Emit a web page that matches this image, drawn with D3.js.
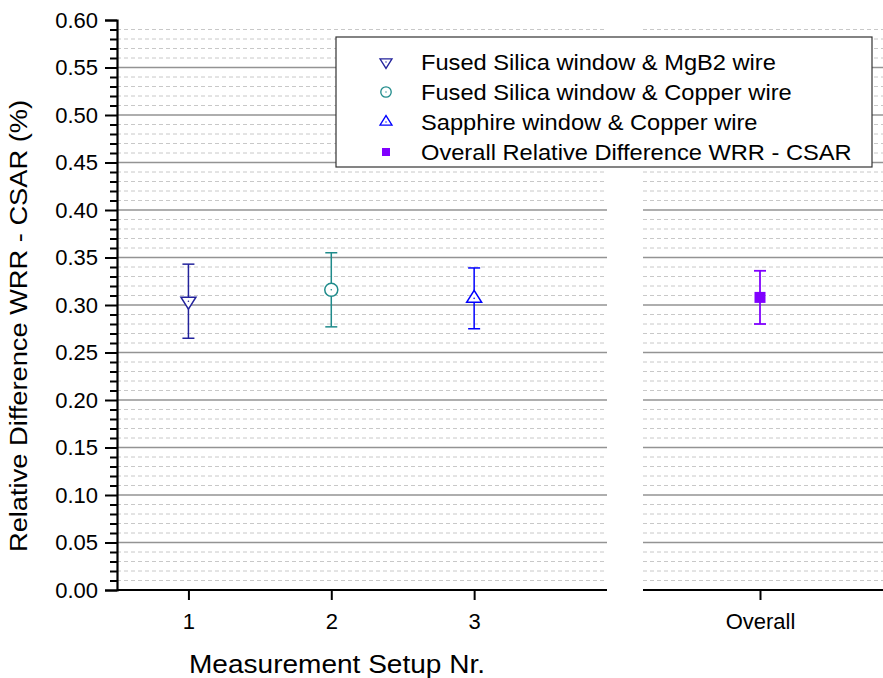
<!DOCTYPE html>
<html>
<head>
<meta charset="utf-8">
<script src="https://cdn.jsdelivr.net/npm/d3@7"></script>
<style>
  body { margin: 0; background: #fff; }
  svg { display: block; }
  text { font-family: "Liberation Sans", Arial, Helvetica, sans-serif; fill: #000; }
</style>
</head>
<body>
<svg id="chart" width="883" height="678"></svg>
<script>
// ---- data ----
const setups = [1, 2, 3];
const setupNames = [
  "Fused Silica window & MgB2 wire",
  "Fused Silica window & Copper wire",
  "Sapphire window & Copper wire"
];
const setupValues = [0.304, 0.316, 0.307];
const setupErrors = [0.039, 0.039, 0.032];
const setupColors = ["#23239c", "#1f8b8b", "#0000ff"];
const setupShapes = ["triangleDown", "circle", "triangleUp"];

const overallCategory = ["Overall"];
const overallName = "Overall Relative Difference WRR - CSAR";
const overallValues = [0.308];
const overallErrors = [0.028];
const overallColor = "#8000ff";

const yMajorTicks = [0, 0.05, 0.10, 0.15, 0.20, 0.25, 0.30, 0.35, 0.40, 0.45, 0.50, 0.55, 0.60];
const yMinorTicks = d3.range(1, 60).filter(i => i % 5 !== 0).map(i => i / 100);
const xTickLabels = ["1", "2", "3"];

const yTitle = "Relative Difference WRR - CSAR (%)";
const xTitle = "Measurement Setup Nr.";

// ---- layout ----
const svg = d3.select("#chart");
const y = d3.scaleLinear().domain([0, 0.6]).range([590, 20]);
const xLeft = d3.scaleLinear().domain([0.5, 3.93]).range([117, 607]);
const xRight = d3.scalePoint().domain(overallCategory).range([643, 877]).padding(0.5);
const panels = [[117, 607], [643, 883]];
const tickFont = 22;

// ---- grid ----
const grid = svg.append("g");
panels.forEach(([x0, x1]) => {
  grid.selectAll(null).data(yMinorTicks).enter().append("line")
    .attr("x1", x0).attr("x2", x1)
    .attr("y1", d => y(d)).attr("y2", d => y(d))
    .attr("stroke", "#c8c8c8").attr("stroke-width", 1)
    .attr("stroke-dasharray", "4,3");
  grid.selectAll(null).data(yMajorTicks.filter(d => d > 0 && d < 0.6)).enter().append("line")
    .attr("x1", x0).attr("x2", x1)
    .attr("y1", d => y(d)).attr("y2", d => y(d))
    .attr("stroke", "#939393").attr("stroke-width", 1.4);
});

// ---- axes ----
const yAxis = svg.append("g").attr("transform", "translate(117,0)");
yAxis.call(d3.axisLeft(y).tickValues(yMinorTicks).tickSize(7).tickFormat(""));
yAxis.call(g => g.selectAll(".domain").remove());
const yAxisMajor = svg.append("g").attr("transform", "translate(117,0)")
  .call(d3.axisLeft(y).tickValues(yMajorTicks).tickSize(12).tickPadding(7).tickFormat(d3.format(".2f")));
yAxisMajor.selectAll("text").attr("font-size", tickFont).attr("font-family", "Liberation Sans, Arial, sans-serif");
[yAxis, yAxisMajor].forEach(g => {
  g.selectAll(".tick line").attr("stroke", "#000").attr("stroke-width", 2);
  g.select(".domain").attr("stroke", "#000").attr("stroke-width", 2.2);
});

const xAxisLeft = svg.append("g").attr("transform", "translate(0,590)")
  .call(d3.axisBottom(xLeft).tickValues(setups).tickSize(10).tickPadding(13)
    .tickFormat((d, i) => xTickLabels[i]));
xAxisLeft.select(".domain").attr("d", `M${panels[0][0]},0H${panels[0][1]}`);
const xAxisRight = svg.append("g").attr("transform", "translate(0,590)")
  .call(d3.axisBottom(xRight).tickSize(10).tickPadding(13));
xAxisRight.select(".domain").attr("d", `M${panels[1][0]},0H${panels[1][1]}`);
[xAxisLeft, xAxisRight].forEach(g => {
  g.select(".domain").attr("stroke", "#000").attr("stroke-width", 2.2);
  g.selectAll(".tick line").attr("stroke", "#000").attr("stroke-width", 2);
  g.selectAll("text").attr("font-size", tickFont).attr("font-family", "Liberation Sans, Arial, sans-serif");
});

// ---- axis titles ----
svg.append("text")
  .attr("transform", "translate(27,326) rotate(-90)")
  .attr("text-anchor", "middle")
  .attr("font-size", 23)
  .attr("textLength", 452)
  .attr("lengthAdjust", "spacingAndGlyphs")
  .text(yTitle);
svg.append("text")
  .attr("x", 337).attr("y", 673)
  .attr("text-anchor", "middle")
  .attr("font-size", 26)
  .attr("textLength", 296)
  .attr("lengthAdjust", "spacingAndGlyphs")
  .text(xTitle);

// ---- marker shapes ----
function markerPath(shape, s) {
  const p = d3.path();
  if (shape === "triangleDown") {
    const h = s * 0.8;
    p.moveTo(-s / 2, -h / 3); p.lineTo(s / 2, -h / 3); p.lineTo(0, 2 * h / 3); p.closePath();
  } else if (shape === "triangleUp") {
    const h = s * 0.8;
    p.moveTo(-s / 2, h / 3); p.lineTo(s / 2, h / 3); p.lineTo(0, -2 * h / 3); p.closePath();
  } else if (shape === "circle") {
    p.arc(0, 0, s / 2.3, 0, 2 * Math.PI);
  } else if (shape === "square") {
    p.rect(-s / 2, -s / 2, s, s);
  }
  return p.toString();
}

function drawErrorBar(g, cx, v, e, color, width) {
  g.append("line").attr("x1", cx).attr("x2", cx).attr("y1", y(v + e)).attr("y2", y(v - e))
    .attr("stroke", color).attr("stroke-width", width);
  [v + e, v - e].forEach(t => {
    g.append("line").attr("x1", cx - 6).attr("x2", cx + 6).attr("y1", y(t)).attr("y2", y(t))
      .attr("stroke", color).attr("stroke-width", width);
  });
}

// ---- setup points ----
const marks = svg.append("g");
setups.forEach((s, i) => {
  const cx = xLeft(s), v = setupValues[i], color = setupColors[i];
  drawErrorBar(marks, cx, v, setupErrors[i], color, 1.5);
  marks.append("path")
    .attr("d", markerPath(setupShapes[i], 15))
    .attr("transform", `translate(${cx},${y(v)})`)
    .attr("fill", "#fff").attr("stroke", color).attr("stroke-width", 1.5);
  marks.append("circle").attr("cx", cx).attr("cy", y(v)).attr("r", 0.8).attr("fill", color);
});

// ---- overall point ----
overallCategory.forEach((c, i) => {
  const cx = xRight(c), v = overallValues[i];
  drawErrorBar(marks, cx, v, overallErrors[i], overallColor, 1.8);
  marks.append("path")
    .attr("d", markerPath("square", 11))
    .attr("transform", `translate(${cx},${y(v)})`)
    .attr("fill", overallColor);
});

// ---- legend ----
const legend = svg.append("g");
legend.append("rect")
  .attr("x", 336).attr("y", 37).attr("width", 536).attr("height", 130)
  .attr("fill", "#fff").attr("stroke", "#333").attr("stroke-width", 1.2);
const legendItems = setupNames.map((n, i) => ({ name: n, shape: setupShapes[i], color: setupColors[i], fill: "#fff" }))
  .concat([{ name: overallName, shape: "square", color: overallColor, fill: overallColor }]);
legendItems.forEach((d, i) => {
  const base = 70 + 30 * i;
  const cy = base - 8;
  const size = d.shape === "square" ? 8 : 12;
  legend.append("path")
    .attr("d", markerPath(d.shape, size))
    .attr("transform", `translate(386,${cy})`)
    .attr("fill", d.fill).attr("stroke", d.shape === "square" ? "none" : d.color).attr("stroke-width", 1.3);
  if (d.shape !== "square") {
    legend.append("circle").attr("cx", 386).attr("cy", cy).attr("r", 0.7).attr("fill", d.color);
  }
  const t = legend.append("text")
    .attr("x", 421).attr("y", base)
    .attr("font-size", 22)
    .text(d.name);
  // widen the legend text slightly to the Origin-style metrics
  const w = t.node().getComputedTextLength();
  t.attr("textLength", w * 1.075).attr("lengthAdjust", "spacingAndGlyphs");
});
</script>
</body>
</html>
